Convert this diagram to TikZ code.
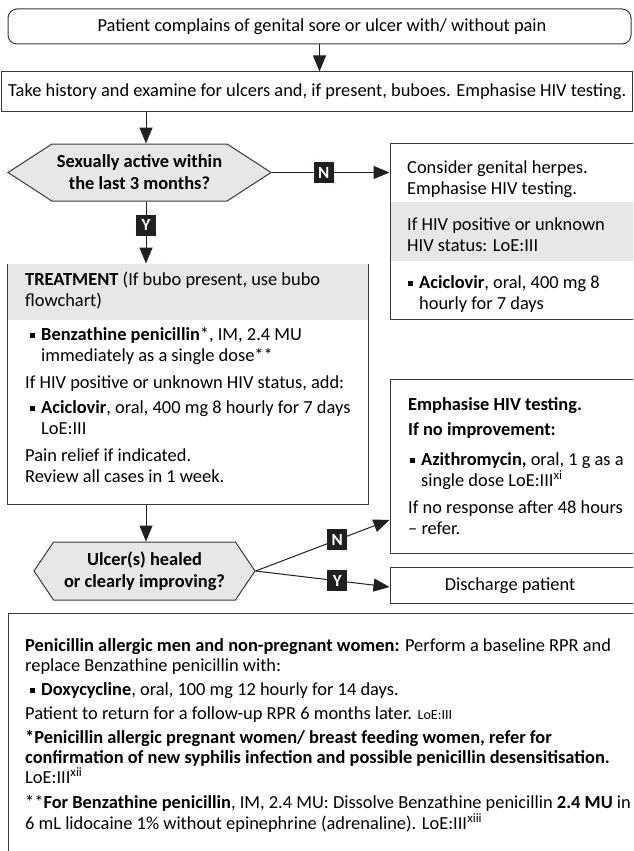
\documentclass[tikz,border=0pt]{standalone}
\usepackage{fontspec}
\setmainfont{Carlito}
\usetikzlibrary{arrows.meta,shapes.symbols,calc}

\definecolor{ink}{HTML}{231F20}
\definecolor{band}{HTML}{E6E7E8}
\definecolor{edge}{HTML}{3A3A3A}

\tikzset{
  box/.style={draw=edge, line width=1pt, rectangle, inner sep=0pt},
  shade/.style={fill=band, draw=none, rectangle, inner sep=0pt},
  arr/.style={draw=ink, line width=1pt, -{Triangle[length=16pt,width=13pt]}},
  yn/.style={fill=ink, text=white, font=\bfseries\fontsize{17}{17}\selectfont,
    minimum width=20pt, minimum height=21pt, inner sep=0pt},
  txt/.style={anchor=base west, inner sep=0pt, font=\fontsize{18.4}{20.5}\selectfont},
  dec/.style={signal, signal to=west and east, draw=edge, fill=band, line width=1pt,
    inner sep=0pt, font=\bfseries\fontsize{18.4}{22}\selectfont, align=center},
}
\newcommand\sqbullet{\rule[2.4pt]{4.6pt}{4.6pt}\hspace*{6.4pt}}
\newcommand\loesmall{\fontsize{14}{15}\selectfont}

\begin{document}
\begin{tikzpicture}[x=1pt,y=-1pt]
\useasboundingbox (0,0) rectangle (633,851);
\fill[white] (0,0) rectangle (633,851);
\clip (0,0) rectangle (633,851);

% opening complaint
\node[box, rounded corners=9pt, minimum width=623pt, minimum height=35pt] (b1) at (319.5,26.5) {};
\node[txt, anchor=base] (t1) at (322,32) {Patient complains of genital sore or ulcer with/ without pain};

% history box
\node[box, minimum width=631pt, minimum height=39pt] (b2) at (317,91.5) {};
\node[txt] (t2) at (8,96) {Take history and examine for ulcers and, if present, buboes. Emphasise HIV testing.};

% first decision
\node[dec, signal pointer angle=66, minimum width=263pt, minimum height=57pt] (d1) at (139.5,172.5)
  {Sexually active within\\the last 3 months?};

% genital herpes box
\node[box, minimum width=270pt, minimum height=176pt] (herp) at (525,231) {};
\node[shade, minimum width=269pt, minimum height=59pt] (herpband) at (525,231.5) {};
\node[txt] (h1) at (407,173) {Consider genital herpes.};
\node[txt] (h2) at (407,194) {Emphasise HIV testing.};
\node[txt] (h3) at (407,230) {If HIV positive or unknown};
\node[txt] (h4) at (407,251) {HIV status: LoE:III};
\node[txt] (h5) at (408,288) {\sqbullet\textbf{Aciclovir}, oral, 400 mg 8};
\node[txt] (h6) at (419,309) {hourly for 7 days};

% treatment box
\node[box, minimum width=361pt, minimum height=240pt] (tb) at (187.5,384) {};
\node[shade, minimum width=360pt, minimum height=56pt] (tbhead) at (187.5,292) {};
\node[txt] (r1) at (25,285) {\textbf{TREATMENT} (If bubo present, use bubo};
\node[txt] (r2) at (25,306) {flowchart)};
\node[txt] (r3) at (30,340) {\sqbullet\textbf{Benzathine penicillin}*, IM, 2.4 MU};
\node[txt] (r4) at (41,361) {immediately as a single dose**};
\node[txt] (r5) at (25,388) {If HIV positive or unknown HIV status, add:};
\node[txt] (r6) at (30,413) {\sqbullet\textbf{Aciclovir}, oral, 400 mg 8 hourly for 7 days};
\node[txt] (r7) at (41,434) {LoE:III};
\node[txt] (r8) at (25,461) {Pain relief if indicated.};
\node[txt] (r9) at (25,482) {Review all cases in 1 week.};

% second decision
\node[dec, signal pointer angle=112, minimum width=221pt, minimum height=58pt] (d2) at (144.5,571)
  {Ulcer(s) healed\\or clearly improving?};

% no improvement box
\node[box, minimum width=270pt, minimum height=174pt] (emph) at (525,466) {};
\node[txt] (e1) at (408,410) {\textbf{Emphasise HIV testing.}};
\node[txt] (e2) at (408,435) {\textbf{If no improvement:}};
\node[txt] (e3) at (410,465) {\sqbullet\textbf{Azithromycin,} oral, 1 g as a};
\node[txt] (e4) at (421,486) {single dose LoE:III\textsuperscript{xi}};
\node[txt] (e5) at (408,513) {If no response after 48 hours};
\node[txt] (e6) at (408,534) {-- refer.};

% discharge box
\node[box, minimum width=270pt, minimum height=36pt] (dis) at (525,585) {};
\node[txt, anchor=base] (dist) at (510,590) {Discharge patient};

% footnote box
\node[box, minimum width=660pt, minimum height=260pt] (foot) at (338,743) {};
\node[txt] (f1) at (25,651) {\textbf{Penicillin allergic men and non-pregnant women:} Perform a baseline RPR and};
\node[txt] (f2) at (25,671) {replace Benzathine penicillin with:};
\node[txt] (f3) at (30,695) {\sqbullet\textbf{Doxycycline}, oral, 100 mg 12 hourly for 14 days.};
\node[txt] (f4) at (25,719) {Patient to return for a follow-up RPR 6 months later. {\loesmall LoE:III}};
\node[txt] (f5) at (25,743) {\textbf{*Penicillin allergic pregnant women/ breast feeding women, refer for}};
\node[txt] (f6) at (25,763) {\textbf{confirmation of new syphilis infection and possible penicillin desensitisation.}};
\node[txt] (f7) at (25,783) {LoE:III\textsuperscript{xii}};
\node[txt] (f8) at (25,808) {**\textbf{For Benzathine penicillin}, IM, 2.4 MU: Dissolve Benzathine penicillin \textbf{2.4 MU} in};
\node[txt] (f9) at (25,829) {6 mL lidocaine 1\% without epinephrine (adrenaline). LoE:III\textsuperscript{xiii}};

% connectors
\draw[arr] (b1.south) -- (b1.south |- b2.north);
\draw[arr] (b2.south -| d1.north) ++(6.5,0) coordinate (c1) -- (c1 |- d1.north);
\draw[arr] (d1.east) -- (d1.east -| herp.west)
  node[yn, pos=0.44] (n1) {N};
\draw[arr] ($(d1.south)+(6.5,0)$) coordinate (c2) -- (c2 |- tb.north)
  node[yn, pos=0.38] (y1) {Y};
\draw[arr] (c2 |- tb.south) -- (c2 |- d2.north);
\draw[arr] (d2.east) -- ($(emph.west)+(0,54)$)
  node[yn, pos=0.61] (n2) {N};
\draw[arr] (d2.east) -- ($(dis.west)+(0,2)$)
  node[yn, pos=0.61] (y2) {Y};
\end{tikzpicture}
\end{document}
